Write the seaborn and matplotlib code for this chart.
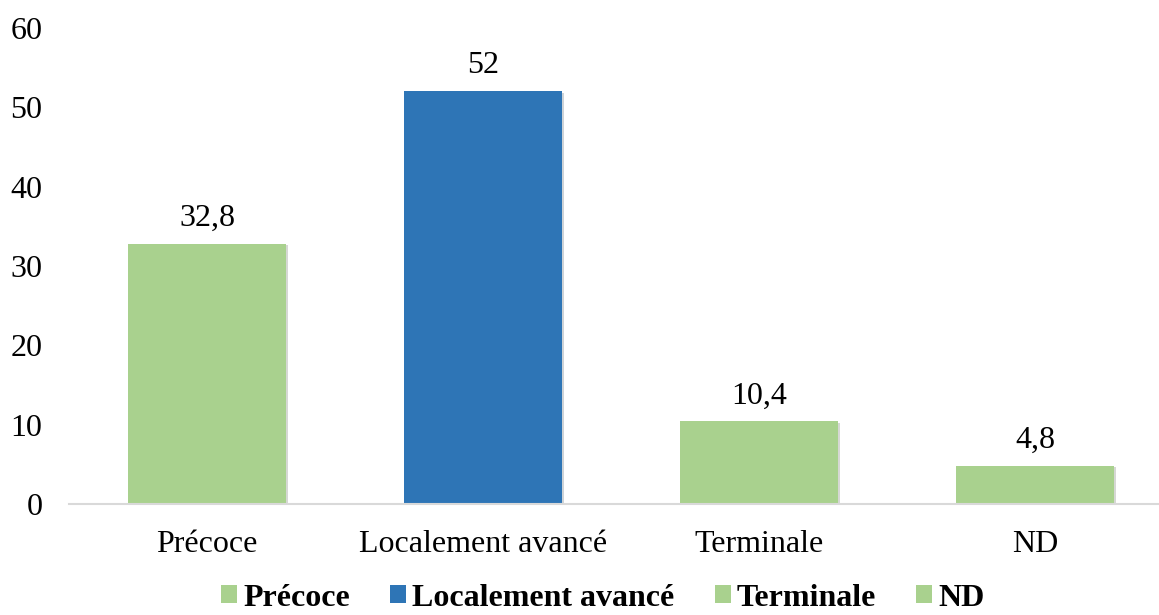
#!/usr/bin/env python
"""
Bar chart of stage distribution (percent) with bottom legend.
"""
# Third-party
import matplotlib.pyplot as plt
import matplotlib.patheffects as pe
import pandas as pd
import seaborn as sns
from matplotlib.patches import Patch

# Data
categories = ["Précoce", "Localement avancé", "Terminale", "ND"]
values = [32.8, 52, 10.4, 4.8]
value_labels = ["32,8", "52", "10,4", "4,8"]
y_ticks = [0, 10, 20, 30, 40, 50, 60]

GREEN = "#A9D18E"
BLUE = "#2E75B6"
colors = [GREEN, BLUE, GREEN, GREEN]


def main():
    sns.set_theme(style="white")
    plt.rcParams["font.family"] = ["Liberation Serif", "DejaVu Serif"]
    plt.rcParams["text.color"] = "black"
    plt.rcParams["xtick.color"] = "black"
    plt.rcParams["ytick.color"] = "black"

    data = pd.DataFrame({"stage": categories, "pct": values})

    fig = plt.figure(figsize=(11.59, 6.15), dpi=100)
    # axes placed in pixels: left 69, width 1104, bottom y=504, top y=28
    ax = fig.add_axes([69 / 1159, (615 - 504) / 615, 1104 / 1159, 476 / 615])

    sns.barplot(
        data=data,
        x="stage",
        y="pct",
        hue="stage",
        palette=colors,
        saturation=1,
        dodge=False,
        width=0.575,
        legend=False,
        linewidth=0,
        ax=ax,
    )

    # subtle shadow like the original office chart
    for p in ax.patches:
        p.set_path_effects(
            [
                pe.SimplePatchShadow(offset=(1, -1), alpha=0.2),
                pe.Normal(),
            ]
        )

    # value labels on top of bars
    for p, lab in zip(ax.patches, value_labels):
        ax.annotate(
            lab,
            (p.get_x() + p.get_width() / 2.0, p.get_height()),
            ha="center",
            va="bottom",
            xytext=(0, 8),
            textcoords="offset points",
            fontsize=23,
            color="black",
        )

    ax.set_ylim(0, 60)
    ax.set_xlim(-0.5, 3.5)
    ax.set_yticks(y_ticks)
    ax.set_yticklabels([str(t) for t in y_ticks], fontsize=23)
    ax.tick_params(axis="x", labelsize=23, pad=19, length=0)
    ax.tick_params(axis="y", pad=19, length=0)
    ax.set_xlabel("")
    ax.set_ylabel("")

    for side in ["top", "right", "left"]:
        ax.spines[side].set_visible(False)
    ax.spines["bottom"].set_color("#D9D9D9")
    ax.spines["bottom"].set_linewidth(1.5)
    ax.grid(False)

    handles = [Patch(facecolor=c, edgecolor="none") for c in colors]
    fig.legend(
        handles,
        categories,
        loc="center",
        bbox_to_anchor=(603 / 1159, 1 - 598 / 615),
        ncol=4,
        frameon=False,
        prop={"weight": "bold", "size": 23},
        handlelength=0.5,
        handleheight=0.5,
        handletextpad=0.2,
        columnspacing=1.25,
    )

    fig.savefig("out.png", dpi=100)


if __name__ == "__main__":
    main()
